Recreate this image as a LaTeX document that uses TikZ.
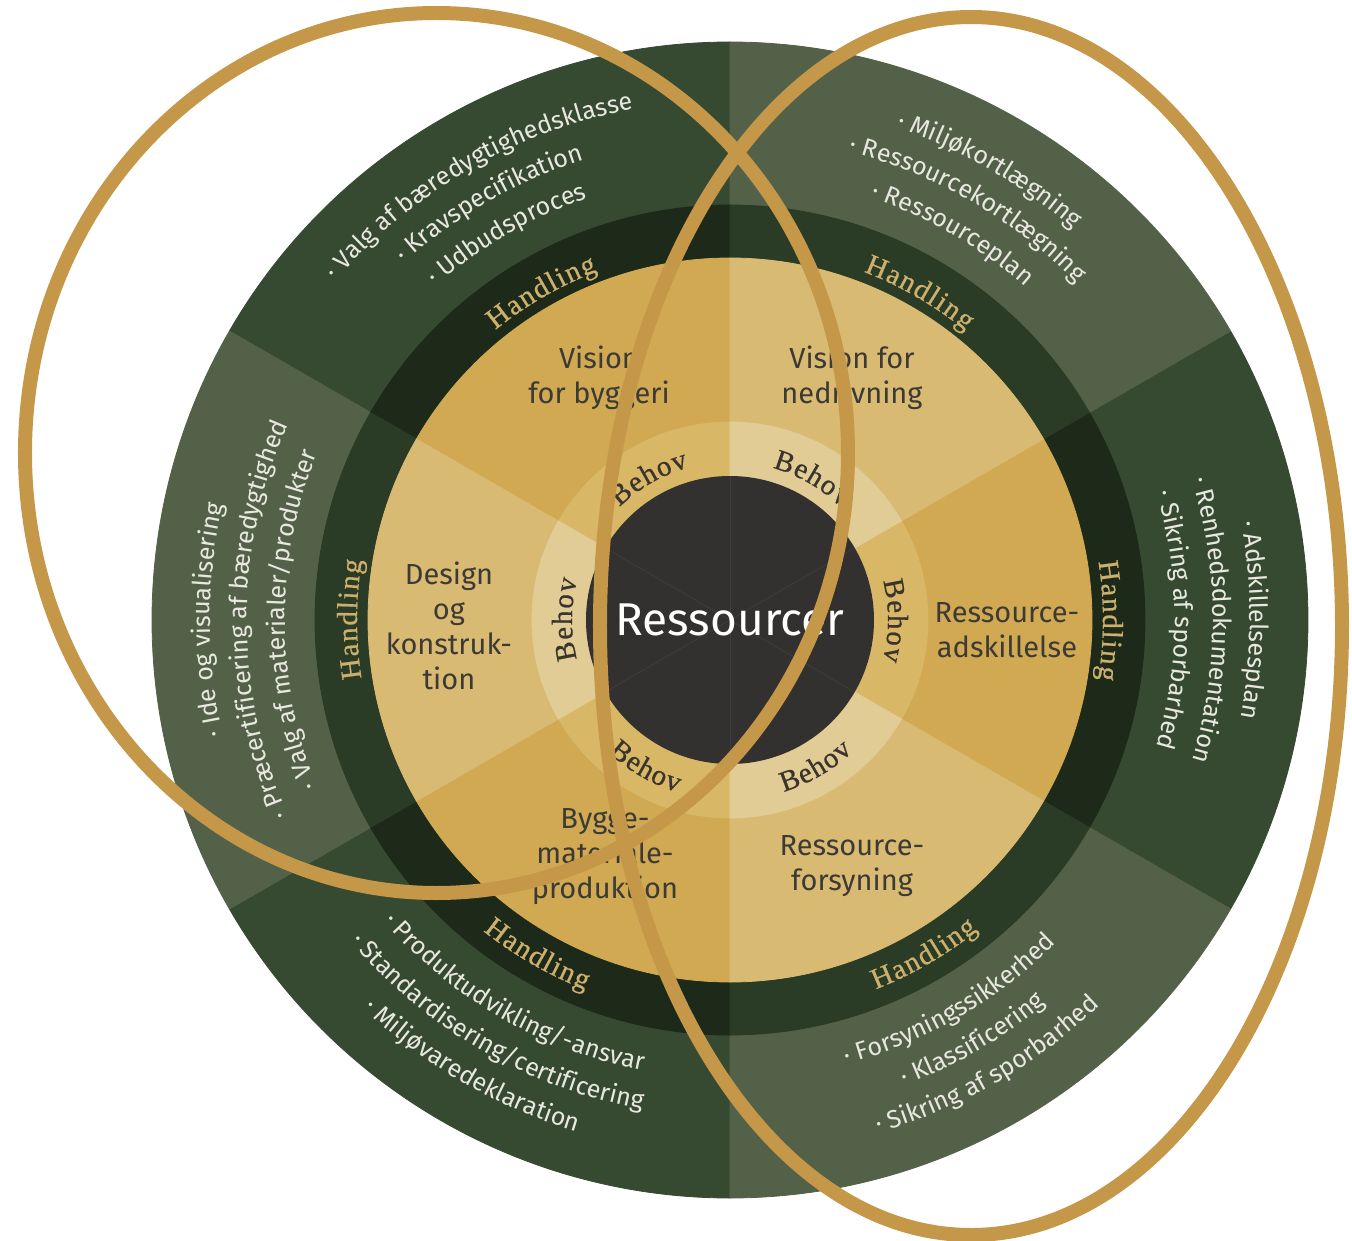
\documentclass[tikz,border=0pt]{standalone}
\usepackage{fontspec}
\setmainfont{Fira Sans}
\newfontfamily\serifface[FakeBold=0.7]{Liberation Serif}
\usepackage{tikz}
\usetikzlibrary{decorations.text}

\definecolor{greenDark}{HTML}{364A31}
\definecolor{greenLight}{HTML}{546149}
\definecolor{ringDark}{HTML}{1D2A19}
\definecolor{ringLight}{HTML}{2A3B26}
\definecolor{goldDark}{HTML}{D0A952}
\definecolor{goldLight}{HTML}{D9BA72}
\definecolor{behovDark}{HTML}{D8B767}
\definecolor{behovLight}{HTML}{E2CC95}
\definecolor{coreGrey}{HTML}{323130}
\definecolor{coreLine}{HTML}{3E3D3B}
\definecolor{ovalGold}{HTML}{C49749}
\definecolor{textGrey}{HTML}{3C3A35}
\definecolor{behovText}{HTML}{3A342C}
\definecolor{listWhite}{HTML}{E8E8E0}
\definecolor{handGold}{HTML}{CDB06E}

\newcommand{\listfont}{\fontsize{25}{25}\selectfont\color{listWhite}}
\newcommand{\handfont}{\serifface\fontsize{29}{29}\selectfont\color{handGold}\kern1.5pt}
\newcommand{\behovfont}{\serifface\fontsize{29}{29}\selectfont\color{behovText}\kern1.2pt}

\begin{document}
\begin{tikzpicture}[x=1pt, y=1pt,
    wedge/.style={fill=#1, draw=#1, line width=0.8pt},
    curved/.style={decorate, decoration={text along path, text align=center, text/.expanded={#1}}},
    sector/.style={align=center, text=textGrey, font=\fontsize{29}{35}\selectfont},
    oval/.style={draw=ovalGold, line width=14pt}
]
    \useasboundingbox (-730,-620) rectangle (622,620);

    % rings, outside in
    \foreach \rad/\dark/\light in {578/greenDark/greenLight, 415/ringDark/ringLight, 362/goldDark/goldLight, 198/behovDark/behovLight} {
        \foreach \ang in {120,0,-120}
            \filldraw[wedge=\dark] (0,0) -- ({\ang-30}:\rad) arc[start angle=\ang-30, end angle=\ang+30, radius=\rad] -- cycle;
        \foreach \ang in {60,-60,180}
            \filldraw[wedge=\light] (0,0) -- ({\ang-30}:\rad) arc[start angle=\ang-30, end angle=\ang+30, radius=\rad] -- cycle;
    }
    \fill[coreGrey] (0,0) circle[radius=144];
    \foreach \ang in {30,90,...,330}
        \draw[coreLine, line width=0.8pt] (0,0) -- (\ang:144);

    % lists, letters pointing out
    \foreach \ang/\rad/\txt in {
        120/520/{· Valg af bæredygtighedsklasse}, 120/483/{· Kravspecifikation}, 120/445/{· Udbudsproces},
        60/520/{· Miljøkortlægning}, 60/483/{· Ressourcekortlægning}, 60/445/{· Ressourceplan},
        0/520/{· Adskillelsesplan}, 0/483/{· Renhedsdokumentation}, 0/445/{· Sikring af sporbarhed},
        180/520/{· Ide og visualisering}, 180/483/{· Præcertificering af bæredygtighed}, 180/445/{· Valg af materialer/produkter}}
        \path[curved={|\noexpand\listfont|\txt}] ({\ang+45}:\rad) arc[start angle=\ang+45, end angle=\ang-45, radius=\rad];
    % lists, letters pointing in
    \foreach \ang/\rad/\txt in {
        -60/459/{· Forsyningssikkerhed}, -60/497/{· Klassificering}, -60/534/{· Sikring af sporbarhed},
        -120/459/{· Produktudvikling/-ansvar}, -120/497/{· Standardisering/certificering}, -120/534/{· Miljøvaredeklaration}}
        \path[curved={|\noexpand\listfont|\txt}] ({\ang-45}:\rad) arc[start angle=\ang-45, end angle=\ang+45, radius=\rad];

    % Handling / Behov
    \foreach \ang in {120,60,0,180} {
        \path[curved={|\noexpand\handfont|Handling}] ({\ang+40}:373) arc[start angle=\ang+40, end angle=\ang-40, radius=373];
        \path[curved={|\noexpand\behovfont|Behov}] ({\ang+50}:158) arc[start angle=\ang+50, end angle=\ang-50, radius=158];
    }
    \foreach \ang in {-60,-120} {
        \path[curved={|\noexpand\handfont|Handling}] ({\ang-40}:397) arc[start angle=\ang-40, end angle=\ang+40, radius=397];
        \path[curved={|\noexpand\behovfont|Behov}] ({\ang-50}:180) arc[start angle=\ang-50, end angle=\ang+50, radius=180];
    }

    \node[sector] (build) at (-131,242) {Vision\\for byggeri};
    \node[sector] (demol) at (122,242) {Vision for\\nedrivning};
    \node[sector] (split) at (277,-10) {Ressource-\\adskillelse};
    \node[sector] (supply) at (122,-246) {Ressource-\\forsyning};
    \node[sector] (prod) at (-125,-237) {Bygge-\\materiale-\\produktion};
    \node[sector] (design) at (-281,-6) {Design\\og\\konstruk-\\tion};
    \node[font=\fontsize{46}{46}\selectfont, text=white] (core) at (0,0) {Ressourcer};

    \draw[oval] (-293.5,167) ellipse[x radius=411.5, y radius=440];
    \draw[oval] (241,-6) ellipse[x radius=371, y radius=609];
\end{tikzpicture}
\end{document}
